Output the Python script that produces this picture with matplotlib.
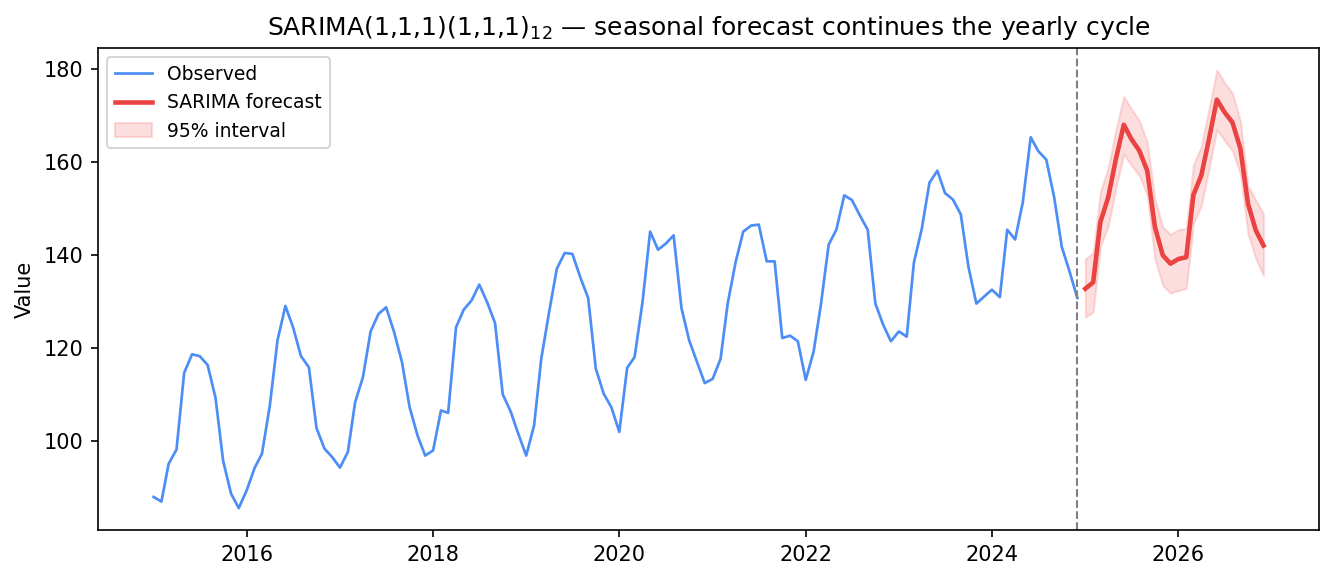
import pandas as pd
import matplotlib
matplotlib.use("Agg")
import matplotlib.pyplot as plt

# monthly observed series, Jan 2015 .. Dec 2024
observed = [
    87.9, 86.9, 95.0, 98.1, 114.6, 118.6, 118.2, 116.3, 109.2, 95.6, 88.6, 85.5,
    89.3, 94.1, 97.2, 107.6, 121.6, 129.0, 124.4, 118.2, 115.8, 102.7, 98.3, 96.5,
    94.2, 97.6, 108.2, 113.7, 123.5, 127.3, 128.7, 123.4, 116.9, 107.2, 101.1, 96.8,
    97.9, 106.5, 106.0, 124.4, 128.2, 130.2, 133.6, 129.8, 125.3, 110.0, 106.3, 101.5,
    96.8, 103.3, 117.6, 127.7, 137.0, 140.4, 140.2, 135.2, 130.7, 115.5, 110.1, 107.2,
    101.9, 115.7, 118.0, 129.8, 145.0, 141.1, 142.4, 144.2, 128.5, 121.6, 116.9, 112.4,
    113.3, 117.6, 129.5, 138.4, 145.0, 146.3, 146.5, 138.6, 138.6, 122.1, 122.6, 121.4,
    113.1, 119.2, 129.1, 142.2, 145.4, 152.8, 151.8, 148.5, 145.4, 129.5, 124.9, 121.4,
    123.5, 122.4, 138.3, 145.6, 155.5, 158.1, 153.3, 151.9, 148.7, 137.4, 129.5, 131.0,
    132.5, 130.9, 145.4, 143.3, 151.3, 165.3, 162.3, 160.5, 152.4, 141.7, 136.3, 130.7,
]

# SARIMA forecast, Jan 2025 .. Dec 2026
forecast = [
    132.7, 134.1, 147.0, 152.4, 160.6, 168.0, 164.9, 162.4, 158.1, 146.0, 139.9, 138.1,
    139.1, 139.5, 152.9, 157.1, 164.9, 173.4, 170.7, 168.5, 162.9, 151.0, 145.2, 142.0,
]
lower = [
    126.6, 127.7, 141.7, 146.2, 154.3, 161.7, 159.2, 157.1, 152.8, 139.1, 133.4, 131.8,
    132.3, 132.8, 146.7, 150.6, 158.5, 167.0, 164.6, 162.4, 157.4, 144.5, 139.1, 135.5,
]
upper = [
    139.1, 140.4, 153.5, 158.8, 166.9, 174.1, 171.4, 168.9, 164.2, 152.0, 146.0, 144.4,
    145.4, 145.7, 159.4, 163.4, 171.4, 179.8, 177.1, 174.8, 168.9, 154.9, 151.7, 148.8,
]

obs_dates = pd.date_range("2015-01-01", periods=len(observed), freq="MS")
fc_dates = pd.date_range("2025-01-01", periods=len(forecast), freq="MS")

fig, ax = plt.subplots(figsize=(1334 / 150, 581 / 150), dpi=150)
fig.subplots_adjust(left=0.0735, right=0.9888, top=0.9174, bottom=0.0878)

ax.plot(obs_dates, observed, color="#4C8DF6", lw=1.3, label="Observed")
ax.plot(fc_dates, forecast, color="#EB4242", lw=2.2, label="SARIMA forecast")
ax.fill_between(fc_dates, lower, upper, color="#F26B6B", alpha=0.22, label="95% interval")
ax.axvline(obs_dates[-1], color="gray", ls="--", lw=1)

ax.set_title(r"SARIMA(1,1,1)(1,1,1)$_{12}$ — seasonal forecast continues the yearly cycle", fontsize=12)
ax.set_ylabel("Value")
ax.legend(loc="upper left", fontsize=9)

fig.savefig("out.png", dpi=150)
